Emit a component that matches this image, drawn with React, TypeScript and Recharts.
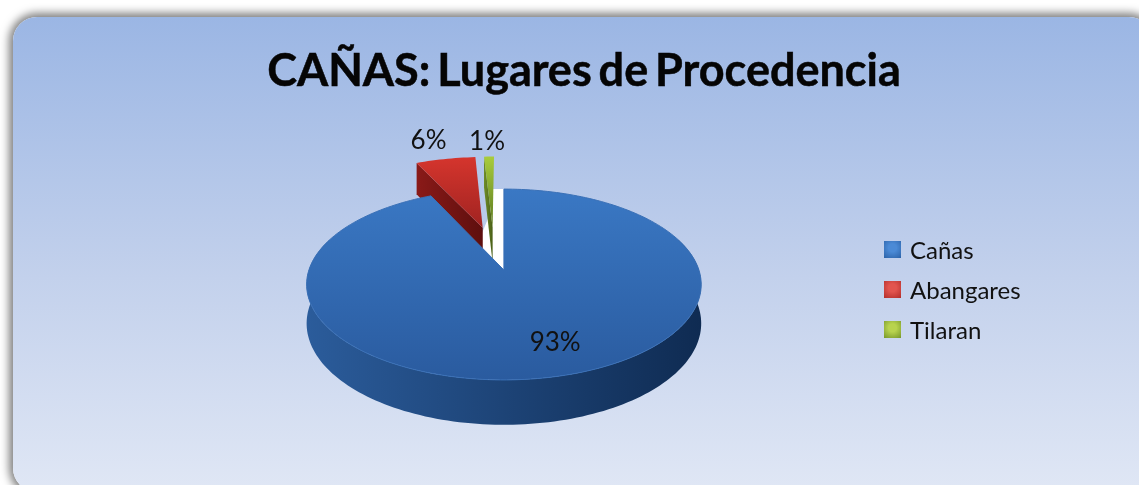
import React from "react";
import { PieChart, Pie, Legend } from "recharts";

const categories = ["Cañas", "Abangares", "Tilaran"];
const values = [93, 6, 1];
const title = "CAÑAS: Lugares de Procedencia";

const topStops: Record<string, [string, string]> = {
  "Cañas": ["#3a78c4", "#2a5b9f"],
  "Abangares": ["#d5352d", "#a02321"],
  "Tilaran": ["#a9cc3c", "#5c7a1f"],
};
const wallStops: Record<string, [string, string]> = {
  "Cañas": ["#2b5c9b", "#0f2b52"],
  "Abangares": ["#8a1a18", "#5e0f0e"],
  "Tilaran": ["#6f8d27", "#4a5f18"],
};
const swatches = [
  ["#4b8ad6", "#2b62a8"],
  ["#e2544e", "#b12d2a"],
  ["#b8d34e", "#76962a"],
];
const labelNudge: Record<string, [number, number]> = {
  "Cañas": [17, -2],
  "Abangares": [-17, -20],
  "Tilaran": [-2, -17],
};

// drawn back-to-front: small slices first so the big one overlaps them
const pieData = categories.map((name, i) => ({ name, value: values[i] })).reverse();

const K = 0.152; // perspective strength
const HEIGHT_RATIO = 0.478; // vertical squash of the disc
const DEPTH_RATIO = 0.195; // extrusion height
const EXPLODE = 0.25;
const CENTER_U = -0.055;
const CENTER_V = 0.244;
const rad = (d: number) => (d * Math.PI) / 180;

function projector(cx: number, cy: number, R: number) {
  return (u: number, v: number, down = 0) => {
    const s = 1 / (1 + K * v);
    return [cx + R * u * s, cy - R * HEIGHT_RATIO * v * s + down * R * DEPTH_RATIO * s] as [number, number];
  };
}
const toPath = (pts: [number, number][]) =>
  "M" + pts.map((p) => `${p[0].toFixed(2)},${p[1].toFixed(2)}`).join("L") + "Z";

function origin(startAngle: number, endAngle: number) {
  const mid = rad((startAngle + endAngle) / 2);
  return [CENTER_U + EXPLODE * Math.cos(mid), CENTER_V + EXPLODE * Math.sin(mid)];
}

function Slice(props: any) {
  const { cx, cy, outerRadius: R, startAngle, endAngle, name } = props;
  const P = projector(cx, cy, R);
  const [ou, ov] = origin(startAngle, endAngle);
  const arc = (a0: number, a1: number, down = 0) => {
    const pts: [number, number][] = [];
    const n = Math.max(2, Math.ceil(Math.abs(a1 - a0) / 1.5));
    for (let i = 0; i <= n; i++) {
      const a = rad(a0 + ((a1 - a0) * i) / n);
      pts.push(P(ou + Math.cos(a), ov + Math.sin(a), down));
    }
    return pts;
  };
  const key = String(name).replace(/[^A-Za-z]/g, "");
  const top = topStops[name];
  const wall = wallStops[name];
  const face = toPath([P(ou, ov), ...arc(startAngle, endAngle)]);
  const e = rad(endAngle);
  const showEdge = Math.cos(e) < -0.01;
  const edge = showEdge
    ? toPath([P(ou, ov), P(ou + Math.cos(e), ov + Math.sin(e)), P(ou + Math.cos(e), ov + Math.sin(e), 1), P(ou, ov, 1)])
    : null;
  const big = endAngle - startAngle > 180;
  const outer = big ? toPath([...arc(160, 380), ...arc(160, 380, 1).reverse()]) : null;
  const smallest = endAngle - startAngle < 10;
  const gap = smallest
    ? toPath([P(0, 1), P(0, 0), P(-0.14, 0.3), P(-0.09, 0.6), P(-0.07, 1)])
    : null;
  return (
    <g>
      <defs>
        <linearGradient id={`top${key}`} x1="0" y1="0" x2="0" y2="1">
          <stop offset="0" stopColor={top[0]} />
          <stop offset="1" stopColor={top[1]} />
        </linearGradient>
        <linearGradient id={`wall${key}`} x1="0" y1="0" x2="1" y2="0">
          <stop offset="0" stopColor={wall[0]} />
          <stop offset="1" stopColor={wall[1]} />
        </linearGradient>
      </defs>
      {gap && <path d={gap} fill="#ffffff" />}
      {outer && <path d={outer} fill={`url(#wall${key})`} />}
      {edge && <path d={edge} fill={`url(#wall${key})`} />}
      <path d={face} fill={`url(#top${key})`} stroke={big ? "#3a70b6" : "none"} strokeWidth={big ? 1 : 0} />
    </g>
  );
}

function SliceLabel(props: any) {
  const { cx, cy, outerRadius: R, startAngle, endAngle, name, value } = props;
  const P = projector(cx, cy, R);
  const [ou, ov] = origin(startAngle, endAngle);
  const mid = rad((startAngle + endAngle) / 2);
  const big = endAngle - startAngle > 180;
  const r = big ? 0.72 : 1;
  const [x, y] = P(ou + r * Math.cos(mid), ov + r * Math.sin(mid));
  const nudge = labelNudge[name];
  return (
    <text
      x={x + nudge[0]}
      y={y + nudge[1]}
      textAnchor="middle"
      dominantBaseline="central"
      fontFamily="Lato, sans-serif"
      fontSize={26}
      fill="#111"
    >
      {`${value}%`}
    </text>
  );
}

function LegendBox() {
  return (
    <div style={{ fontFamily: "Lato, sans-serif", fontSize: 24, color: "#111" }}>
      {categories.map((c, i) => (
        <div key={c} style={{ display: "flex", alignItems: "center", height: 40 }}>
          <span
            style={{
              display: "inline-block",
              width: 17,
              height: 17,
              marginRight: 9,
              background: `radial-gradient(circle at 50% 40%, ${swatches[i][0]} 30%, ${swatches[i][1]} 100%)`,
            }}
          />
          <span>{c}</span>
        </div>
      ))}
    </div>
  );
}

export default function App() {
  return (
    <div style={{ position: "absolute", left: 0, top: 0, width: 1139, height: 485, overflow: "hidden", background: "#fff" }}>
      <div
        style={{
          position: "absolute",
          left: 13,
          top: 17,
          width: 1140,
          height: 475,
          borderRadius: 24,
          background: "linear-gradient(180deg,#9bb6e4 0%,#c3d1ec 55%,#e0e7f5 100%)",
          boxShadow: "0 0 9px 4px rgba(0,0,0,0.5)",
        }}
      />
      <div
        style={{
          position: "absolute",
          left: 0,
          width: 1168,
          top: 39,
          textAlign: "center",
          fontFamily: "Lato, sans-serif",
          fontWeight: 700,
          fontSize: 45,
          lineHeight: "60px",
          wordSpacing: -4,
          color: "#050505",
          WebkitTextStroke: "0.5px #050505",
          filter: "blur(0.3px)",
        }}
      >
        {title}
      </div>
      <div style={{ position: "absolute", left: 0, top: 0, filter: "blur(0.4px)" }}>
        <PieChart width={1139} height={485} margin={{ top: 0, right: 0, bottom: 0, left: 0 }}>
          <Pie
            data={pieData}
            dataKey="value"
            nameKey="name"
            cx={504}
            cy={270}
            outerRadius={195}
            startAngle={90}
            endAngle={450}
            stroke="none"
            isAnimationActive={false}
            shape={Slice}
            label={SliceLabel}
            labelLine={false}
          />
          <Legend
            content={LegendBox}
            layout="vertical"
            wrapperStyle={{ left: 884, top: 229, width: 200, bottom: "auto" }}
          />
        </PieChart>
      </div>
    </div>
  );
}
